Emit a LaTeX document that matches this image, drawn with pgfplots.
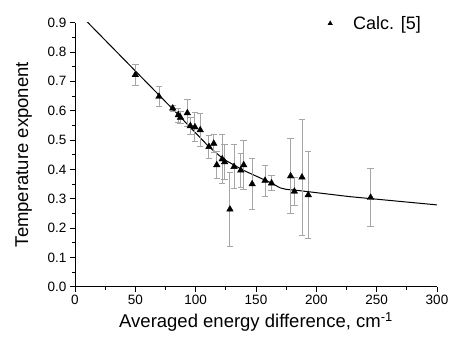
\documentclass[border=0pt]{standalone}
\usepackage{pgfplots}
\pgfplotsset{compat=1.18}
\usepackage{fontspec}
\setmainfont{Liberation Sans}
\begin{document}
\begin{tikzpicture}
\useasboundingbox (-75bp,-51.2bp) rectangle (375bp,286.8bp);
\begin{axis}[
  scale only axis,
  width=362bp, height=264.2bp,
  xmin=0, xmax=300, ymin=0, ymax=0.9,
  xtick={0,50,...,300},
  ytick={0,0.1,...,0.9},
  minor x tick num=1, minor y tick num=1,
  axis x line*=bottom, axis y line*=left,
  axis line style={-, line width=0.8bp},
  tick align=outside,
  major tick length=5bp, minor tick length=3bp,
  tick style={black, line width=0.8bp},
  /pgf/number format/assume math mode=true,
  yticklabel style={/pgf/number format/.cd, fixed, fixed zerofill, precision=1},
  xticklabel style={/pgf/number format/.cd, fixed},
  ticklabel style={font=\fontsize{13.5bp}{15bp}\selectfont},
  label style={font=\fontsize{18.5bp}{21bp}\selectfont},
  xlabel={Averaged energy difference, cm\textsuperscript{-1}},
  ylabel={Temperature exponent},
  xlabel shift=1bp,
  ylabel shift=9bp,
  legend style={draw=none, fill=none, at={(0.69,1.04)}, anchor=north west,
    font=\fontsize{18bp}{20bp}\selectfont},
  legend cell align=left,
  legend image code/.code={
    \path[draw=none, fill=none] (0bp,0bp) -- (21bp,0bp);
    \path[draw=none] plot[mark=triangle*, mark size=2.6bp, mark options={fill=black, draw=black}] coordinates {(0bp,0bp)};
  },
]
\addplot[black, line width=1bp, forget plot] coordinates {
(10,0.903) (83,0.597) (110.5,0.479) (123,0.435) (140,0.396) (162,0.355) (170,0.337) (175,0.332) (181,0.330) (228,0.307) (300,0.279)
};
\addplot[only marks, mark=triangle*, mark size=3.8bp, mark options={fill=black, draw=black},
  error bars/.cd, y dir=both, y explicit,
  error bar style={gray!70, line width=0.9bp},
  error mark options={rotate=90, mark size=3.2bp, gray!70, line width=0.9bp}]
  table[x=x, y=y, y error=e] {
x y e
50 0.722 0.037
69.6 0.648 0.035
81 0.608 0.010
85.6 0.585 0.024
87.4 0.577 0.020
93.1 0.592 0.046
95.6 0.548 0.030
99.4 0.544 0.050
103.8 0.534 0.055
111 0.477 0.040
115 0.488 0.030
117.5 0.415 0.046
122 0.435 0.083
124 0.425 0.060
128.4 0.264 0.125
131.8 0.409 0.075
137.4 0.397 0.057
139.8 0.415 0.083
146.8 0.350 0.088
157.5 0.362 0.053
162.9 0.353 0.026
178.7 0.377 0.127
181.8 0.325 0.049
188.1 0.373 0.197
193.3 0.313 0.148
245 0.304 0.100
};
\addlegendentry{Calc. [5]}
\end{axis}
\end{tikzpicture}
\end{document}
